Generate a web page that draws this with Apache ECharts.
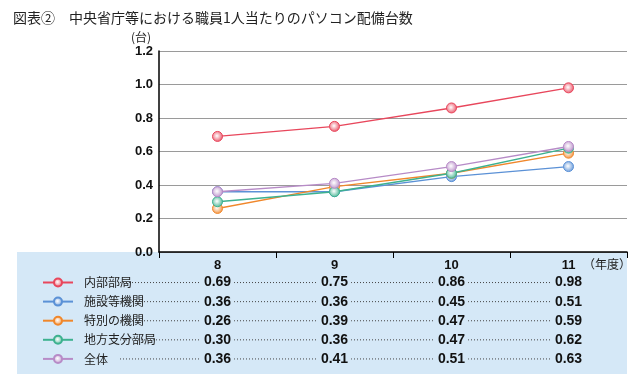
<!DOCTYPE html>
<html><head><meta charset="utf-8">
<script src="https://cdn.jsdelivr.net/npm/echarts@6/dist/echarts.min.js"></script>
<style>html,body{margin:0;padding:0;background:#fff}#c{width:637px;height:381px}</style>
</head><body><div id="c"></div>
<script>
const years = ['8', '9', '10', '11'];
const seriesNames = ['内部部局', '施設等機関', '特別の機関', '地方支分部局', '全体'];
const naibu = [0.69, 0.75, 0.86, 0.98];
const shisetsu = [0.36, 0.36, 0.45, 0.51];
const tokubetsu = [0.26, 0.39, 0.47, 0.59];
const chiho = [0.30, 0.36, 0.47, 0.62];
const zentai = [0.36, 0.41, 0.51, 0.63];
const yTicks = [0, 0.2, 0.4, 0.6, 0.8, 1.0, 1.2];

const rows = [naibu, shisetsu, tokubetsu, chiho, zentai];
const colors = ['#e8475c', '#5b91d6', '#f0872b', '#3db18f', '#b78bc7'];
const tableBg = '#d5e8f7';
const JP = '"Noto Sans CJK JP", sans-serif';
const NUM = '"Liberation Sans", Arial, sans-serif';

// layout
const gLeft = 159, gRight = 10, W = 637;
const catW = (W - gLeft - gRight) / years.length;
const firstCenter = gLeft + catW / 2;
const tLeft = 120;
const tMin = -(firstCenter - tLeft) / catW;
const tMax = (W - gRight - firstCenter) / catW;

const chart = echarts.init(document.getElementById('c'));

const mainSeries = seriesNames.map((n, i) => ({
  name: n, type: 'line', xAxisIndex: 0, yAxisIndex: 0,
  data: rows[i],
  symbol: 'circle', symbolSize: 10,
  lineStyle: { color: colors[i], width: 1.4 },
  itemStyle: {
    color: new echarts.graphic.RadialGradient(0.45, 0.45, 0.6, [
      { offset: 0, color: '#ffffff' }, { offset: 1, color: colors[i] }]),
    borderColor: colors[i], borderWidth: 1
  },
  z: 5 + i
}));

const tableSeries = seriesNames.map((n, i) => ({
  name: '_t' + i, type: 'line', xAxisIndex: 1, yAxisIndex: 1,
  data: [{ value: [tMin, i], symbol: 'none', label: { show: false } }]
    .concat(rows[i].map((v, j) => ({ value: [j, i] }))),
  symbol: 'circle', symbolSize: 1,
  itemStyle: { color: 'rgba(0,0,0,0)' },
  lineStyle: { color: '#444', width: 1, type: [1, 2] },
  label: {
    show: true, position: 'inside',
    formatter: p => rows[i][p.dataIndex - 1].toFixed(2),
    fontFamily: NUM, fontWeight: 'bold', fontSize: 14, color: '#111',
    backgroundColor: tableBg, padding: [1, 3, 1, 3]
  },
  silent: true, animation: false
}));

chart.setOption({
  animation: false,
  title: {
    text: '図表②　中央省庁等における職員1人当たりのパソコン配備台数',
    left: 8, top: 6,
    textStyle: { fontFamily: JP, fontSize: 14, fontWeight: 'normal', color: '#222' }
  },
  legend: {
    data: seriesNames, orient: 'vertical', left: 42, top: 277.5, padding: 0,
    itemWidth: 30, itemHeight: 10, itemGap: 9.1,
    formatter: () => '', selectedMode: false,
    textStyle: { fontSize: 1 }
  },
  graphic: [
    { type: 'rect', z: -100, shape: { x: 17, y: 252, width: 610, height: 122 }, style: { fill: tableBg } },
    { type: 'text', left: 131, top: 31, style: { text: '(台)', font: '12px ' + JP, fill: '#222' } },
    { type: 'text', left: 583, top: 258, style: { text: '（年度）', font: '12px ' + JP, fill: '#222' } }
  ],
  grid: [
    { left: gLeft, right: gRight, top: 51, bottom: 129 },
    { left: tLeft, right: gRight, top: 273, height: 95.5 }
  ],
  xAxis: [
    {
      type: 'category', gridIndex: 0, data: years, boundaryGap: true,
      axisLine: { lineStyle: { color: '#000', width: 1.5 } },
      axisTick: { show: true, length: 6, lineStyle: { color: '#000' } },
      axisLabel: { margin: 7, fontFamily: NUM, fontWeight: 'bold', fontSize: 13, color: '#111' }
    },
    {
      type: 'value', gridIndex: 1, min: tMin, max: tMax,
      show: false
    }
  ],
  yAxis: [
    {
      type: 'value', gridIndex: 0, min: 0, max: 1.2, interval: 0.2,
      axisLine: { show: true, lineStyle: { color: '#000', width: 1.5 } },
      axisTick: { show: false },
      splitLine: { lineStyle: { color: '#9a9a9a', width: 1.2 } },
      axisLabel: { margin: 6, fontFamily: NUM, fontWeight: 'bold', fontSize: 13, color: '#111',
        formatter: v => yTicks.includes(+v.toFixed(1)) ? v.toFixed(1) : '' }
    },
    {
      type: 'category', gridIndex: 1, data: seriesNames, inverse: true,
      axisLine: { show: false }, axisTick: { show: false }, splitLine: { show: false },
      axisLabel: { margin: 36, align: 'left', fontFamily: JP, fontSize: 12, color: '#222',
        backgroundColor: tableBg, padding: [1, 4, 1, 0] }
    }
  ],
  series: mainSeries.concat(tableSeries)
});
</script></body></html>
